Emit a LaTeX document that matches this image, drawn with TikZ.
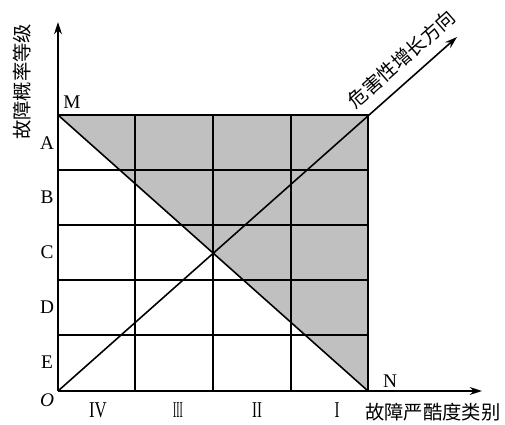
\documentclass[tikz,border=0pt]{standalone}
\usepackage{fontspec}
\usepackage{graphicx}
\setmainfont{Liberation Serif}
\newfontfamily\cjk{Noto Sans CJK SC}
\usepackage{tikz}
\usetikzlibrary{arrows.meta, positioning, calc}
\definecolor{riskgray}{RGB}{192, 192, 192}
\tikzset{
    gridline/.style={draw=black, line width=0.9pt},
    axis/.style={line width=0.9pt, -{Stealth[length=7pt, width=4.5pt]}},
    letter/.style={font=\fontsize{11}{12}\selectfont, inner sep=0pt},
    cnlabel/.style={font=\cjk\fontsize{11}{12}\selectfont, inner sep=1pt}
}
\newcommand{\romnum}[2]{\scalebox{#1}[1.17]{#2}}

\begin{document}
\begin{tikzpicture}[x=0.02cm, y=-0.02cm]
    \useasboundingbox (0,0) rectangle (505,425);
    \coordinate (O) at (58,391);
    \coordinate (M) at (58,115);
    \coordinate (T) at (368,115);
    \coordinate (N) at (368,391);
    \coordinate (ytip) at (58,22);
    \coordinate (xtip) at (482,391);
    \coordinate (htip) at (457,37);

    % shaded zone
    \fill [riskgray] (M) -- (T) -- (N) -- cycle;

    % grid
    \foreach \x in {135,213,291}
        \draw [gridline] (\x,115) -- (\x,391);
    \foreach \y in {170,225,280,335}
        \draw [gridline] (58,\y) -- (368,\y);
    \draw [gridline] (M) -- (T) -- (N);
    \draw [gridline] (M) -- (N);

    % axes
    \draw [axis] (O) -- (ytip);
    \draw [axis] (O) -- (xtip);
    \draw [axis] (O) -- node [cnlabel, pos=0.895, sloped, above=5pt] {危害性增长方向} (htip);

    % labels
    \node (lblM) [letter] at (72,102) {M};
    \node (lblN) [letter] at (390,381) {N};
    \node (lblO) [letter, font=\fontsize{11}{12}\selectfont\itshape] at (47,400) {O};
    \foreach \lbl/\y in {A/143, B/197, C/252, D/307, E/362}
        \node (lbl\lbl) [letter] at (47,\y) {\lbl};

    \node (catIV) [letter] at (98,410) {\romnum{0.87}{IV}};
    \node (catIII) [letter] at (178,410) {\romnum{0.5}{III}};
    \node (catII) [letter] at (257,410) {\romnum{0.77}{II}};
    \node (catI) [letter] at (337,410) {\romnum{0.77}{I}};

    \node (xlabel) [cnlabel, anchor=west] at (363,412) {故障严酷度类别};
    \node (ylabel) [cnlabel, rotate=90] at (22,82) {故障概率等级};
\end{tikzpicture}
\end{document}
